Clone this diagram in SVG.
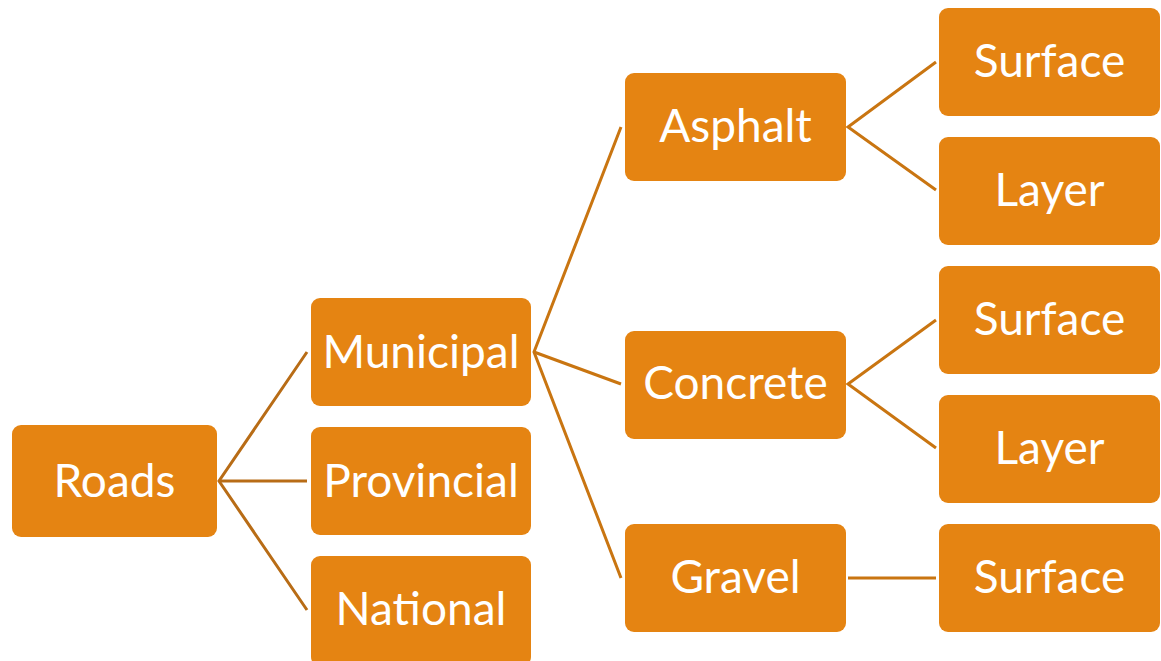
<svg xmlns="http://www.w3.org/2000/svg" width="1161" height="661" viewBox="0 0 1161 661">
<style>
.box{fill:#E58412;}
.t{font-family:Lato,"Open Sans",sans-serif;font-size:46px;fill:#ffffff;text-anchor:middle;}
.c{stroke:#C97511;stroke-width:3;fill:none;}
.c0{stroke:#B86C16;stroke-width:3;fill:none;}
</style>
<rect width="1161" height="661" fill="#ffffff"/>
<g id="connectors">
<polyline class="c0" points="307,352 219,481 307,610"/>
<line class="c0" x1="219" y1="481" x2="307" y2="481"/>
<polyline class="c" points="621,127 534,352 621,578"/>
<line class="c" x1="534" y1="352" x2="621" y2="384"/>
<polyline class="c" points="936,62 848,127 936,190"/>
<polyline class="c" points="936,320 848,384 936,448"/>
<line class="c" x1="848" y1="578" x2="936" y2="578"/>
</g>
<g id="roads"><rect class="box" x="12" y="425" width="205" height="112" rx="9"/><text class="t" x="114.5" y="497">Roads</text></g>
<g id="municipal"><rect class="box" x="311" y="298" width="220" height="108" rx="9"/><text class="t" x="421" y="368">Municipal</text></g>
<g id="provincial"><rect class="box" x="311" y="427" width="220" height="108" rx="9"/><text class="t" x="421" y="497">Provincial</text></g>
<g id="national"><rect class="box" x="311" y="556" width="220" height="110" rx="9"/><text class="t" x="421" y="625">National</text></g>
<g id="asphalt"><rect class="box" x="625" y="73" width="221" height="108" rx="9"/><text class="t" x="735.5" y="142">Asphalt</text></g>
<g id="concrete"><rect class="box" x="625" y="331" width="221" height="108" rx="9"/><text class="t" x="735.5" y="399">Concrete</text></g>
<g id="gravel"><rect class="box" x="625" y="524" width="221" height="108" rx="9"/><text class="t" x="735.5" y="593">Gravel</text></g>
<g id="surface1"><rect class="box" x="939" y="8" width="221" height="108" rx="9"/><text class="t" x="1049.5" y="77">Surface</text></g>
<g id="layer1"><rect class="box" x="939" y="137" width="221" height="108" rx="9"/><text class="t" x="1049.5" y="206">Layer</text></g>
<g id="surface2"><rect class="box" x="939" y="266" width="221" height="108" rx="9"/><text class="t" x="1049.5" y="335">Surface</text></g>
<g id="layer2"><rect class="box" x="939" y="395" width="221" height="108" rx="9"/><text class="t" x="1049.5" y="464">Layer</text></g>
<g id="surface3"><rect class="box" x="939" y="524" width="221" height="108" rx="9"/><text class="t" x="1049.5" y="593">Surface</text></g>
</svg>
